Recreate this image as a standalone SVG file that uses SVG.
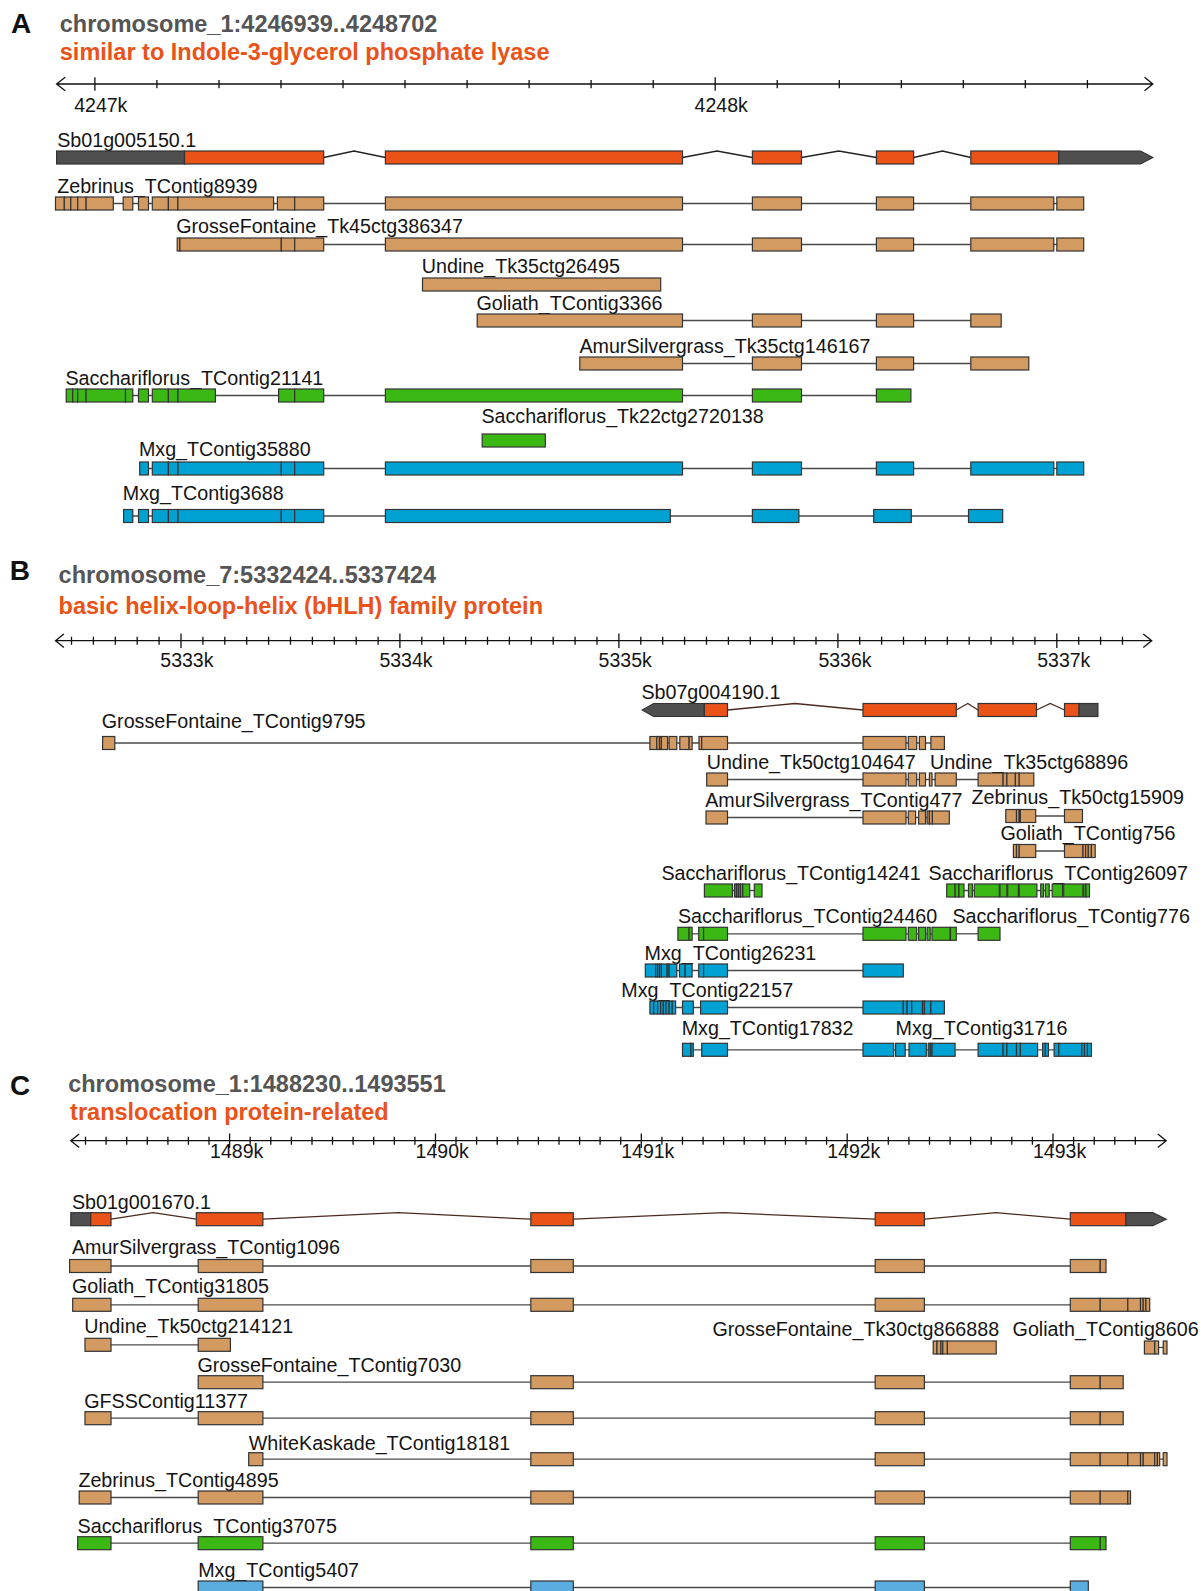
<svg xmlns="http://www.w3.org/2000/svg" width="1202" height="1591" viewBox="0 0 1202 1591">
<style>
text{font-family:"Liberation Sans",Arial,Helvetica,sans-serif}
.lab{font-size:19.7px;fill:#141414}
.tk{font-size:19.5px;fill:#141414}
.let{font-size:28px;font-weight:bold;fill:#111}
.hd{font-size:23.5px;font-weight:bold;fill:#555}
.sub{font-size:23.5px;font-weight:bold;fill:#EA5218}
rect,polygon.u{stroke:#333;stroke-width:1.2}
.o{fill:#EA5218}.d{fill:#4F4F4F}.t{fill:#D39B62}.g{fill:#3CB815}.b{fill:#00A2D3}.lb{fill:#5AADDE}
.in{stroke:#4a4a4a;stroke-width:1.3;fill:none}
.ch{stroke:#222;stroke-width:1.3;fill:none}
.chb{stroke:#4a2a1e;stroke-width:1.3;fill:none}
.ax{stroke:#111;stroke-width:1.3;fill:none}
</style>

<!-- ================= PANEL A ================= -->
<g id="panelA-header">
<text class="let" x="11" y="33">A</text>
<text class="hd" x="59.8" y="31.7">chromosome_1:4246939..4248702</text>
<text class="sub" x="59.8" y="60">similar to Indole-3-glycerol phosphate lyase</text>
</g>
<g id="axisA">
<path class="ax" d="M56.6 84H1152.8M65.2 77.3L56.6 84L65.2 90.7M1144.6 77.3L1152.8 84L1144.6 90.7"/>
<path class="ax" d="M94.9 77.3V90.7M715.2 77.3V90.7M156.9 80V88.3M219 80V88.3M281 80V88.3M343 80V88.3M405 80V88.3M467.1 80V88.3M529.1 80V88.3M591.1 80V88.3M653.2 80V88.3M777.2 80V88.3M839.3 80V88.3M901.3 80V88.3M963.3 80V88.3M1025.3 80V88.3M1087.4 80V88.3"/>
<text class="tk" x="74.2" y="111.7">4247k</text>
<text class="tk" x="694.6" y="111.7">4248k</text>
</g>

<g id="Sb01g005150.1" transform="translate(0,151)">
<text class="lab" x="57.2" y="-4.4">Sb01g005150.1</text>
<polyline class="ch" points="323.7,6.5 354,0 385.4,6.5"/>
<polyline class="ch" points="682.5,6.5 717,0 752.4,6.5"/>
<polyline class="ch" points="801.5,6.5 838.8,0 876.4,6.5"/>
<polyline class="ch" points="913.6,6.5 942.4,0 970.8,6.5"/>
<rect class="d" x="56.6" width="127.9" height="13"/>
<rect class="o" x="184.5" width="139.2" height="13"/>
<rect class="o" x="385.4" width="297.1" height="13"/>
<rect class="o" x="752.4" width="49.1" height="13"/>
<rect class="o" x="876.4" width="37.2" height="13"/>
<rect class="o" x="970.8" width="88" height="13"/>
<polygon class="d u" points="1058.8,0 1140.5,0 1152.8,6.5 1140.5,13 1058.8,13"/>
</g>

<g id="Zebrinus_TContig8939" transform="translate(0,197)">
<text class="lab" x="57.2" y="-4.4">Zebrinus_TContig8939</text>
<path class="in" d="M55.5 6.5H1083.7"/>
<g class="t">
<rect x="55.5" width="8.8" height="13"/><rect x="64.3" width="6.5" height="13"/><rect x="70.8" width="6.9" height="13"/><rect x="77.7" width="8.4" height="13"/><rect x="86.1" width="27.2" height="13"/>
<rect x="123.2" width="9.6" height="13"/><rect x="138.5" width="10" height="13"/>
<rect x="152.3" width="16.1" height="13"/><rect x="168.4" width="9.5" height="13"/><rect x="177.9" width="95.7" height="13"/>
<rect x="277.4" width="17.3" height="13"/><rect x="294.7" width="29" height="13"/>
<rect x="385.4" width="297.1" height="13"/><rect x="752.4" width="49.1" height="13"/><rect x="876.4" width="37.2" height="13"/><rect x="970.8" width="83" height="13"/><rect x="1056.8" width="26.9" height="13"/>
</g>
</g>

<g id="GrosseFontaine_Tk45ctg386347" transform="translate(0,238)">
<text class="lab" x="176.2" y="-4.7">GrosseFontaine_Tk45ctg386347</text>
<path class="in" d="M177.2 6.5H1083.7"/>
<g class="t">
<rect x="177.2" width="2.7" height="13"/><rect x="179.9" width="101.4" height="13"/><rect x="281.3" width="13.4" height="13"/><rect x="294.7" width="29" height="13"/>
<rect x="385.4" width="297.1" height="13"/><rect x="752.4" width="49.1" height="13"/><rect x="876.4" width="37.2" height="13"/><rect x="970.8" width="83" height="13"/><rect x="1056.8" width="26.9" height="13"/>
</g>
</g>

<g id="Undine_Tk35ctg26495" transform="translate(0,278)">
<text class="lab" x="421.8" y="-4.7">Undine_Tk35ctg26495</text>
<rect class="t" x="422.5" width="238.2" height="13"/>
</g>

<g id="Goliath_TContig3366" transform="translate(0,314)">
<text class="lab" x="476.4" y="-4">Goliath_TContig3366</text>
<path class="in" d="M477.2 6.5H1001.2"/>
<g class="t">
<rect x="477.2" width="205.3" height="13"/><rect x="752.4" width="49.1" height="13"/><rect x="876.4" width="37.2" height="13"/><rect x="970.8" width="30.4" height="13"/>
</g>
</g>

<g id="AmurSilvergrass_Tk35ctg146167" transform="translate(0,357)">
<text class="lab" x="579.4" y="-3.7">AmurSilvergrass_Tk35ctg146167</text>
<path class="in" d="M579.8 6.5H1028.8"/>
<g class="t">
<rect x="579.8" width="102.7" height="13"/><rect x="752.4" width="49.1" height="13"/><rect x="876.4" width="37.2" height="13"/><rect x="970.8" width="58" height="13"/>
</g>
</g>

<g id="Sacchariflorus_TContig21141" transform="translate(0,389)">
<text class="lab" x="65.4" y="-4">Sacchariflorus_TContig21141</text>
<path class="in" d="M66.2 6.5H910.9"/>
<g class="g">
<rect x="66.2" width="6.5" height="13"/><rect x="72.7" width="5" height="13"/><rect x="77.7" width="8.4" height="13"/><rect x="86.1" width="39.4" height="13"/><rect x="125.5" width="7.3" height="13"/>
<rect x="138.5" width="10" height="13"/>
<rect x="152.3" width="16.1" height="13"/><rect x="168.4" width="9.6" height="13"/><rect x="178" width="37.4" height="13"/>
<rect x="278.6" width="16.1" height="13"/><rect x="294.7" width="29" height="13"/>
<rect x="385.4" width="297.1" height="13"/><rect x="752.4" width="49.1" height="13"/><rect x="876.4" width="34.5" height="13"/>
</g>
</g>

<g id="Sacchariflorus_Tk22ctg2720138" transform="translate(0,434)">
<text class="lab" x="481.4" y="-11.3">Sacchariflorus_Tk22ctg2720138</text>
<rect class="g" x="482.2" width="63.1" height="13"/>
</g>

<g id="Mxg_TContig35880" transform="translate(0,462)">
<text class="lab" x="138.9" y="-6">Mxg_TContig35880</text>
<path class="in" d="M139.7 6.5H1083.7"/>
<g class="b">
<rect x="139.7" width="8.8" height="13"/>
<rect x="152.3" width="16.1" height="13"/><rect x="168.4" width="9.6" height="13"/><rect x="178" width="103.3" height="13"/><rect x="281.3" width="13.4" height="13"/><rect x="294.7" width="29" height="13"/>
<rect x="385.4" width="297.1" height="13"/><rect x="752.4" width="49.1" height="13"/><rect x="876.4" width="37.2" height="13"/><rect x="970.8" width="83" height="13"/><rect x="1056.8" width="26.9" height="13"/>
</g>
</g>

<g id="Mxg_TContig3688" transform="translate(0,509.5)">
<text class="lab" x="122.8" y="-9.5">Mxg_TContig3688</text>
<path class="in" d="M123.6 6.5H1002.7"/>
<g class="b">
<rect x="123.6" width="9.2" height="13"/><rect x="138.5" width="10" height="13"/>
<rect x="152.3" width="16.1" height="13"/><rect x="168.4" width="9.6" height="13"/><rect x="178" width="103.3" height="13"/><rect x="281.3" width="13.4" height="13"/><rect x="294.7" width="29" height="13"/>
<rect x="385.4" width="284.9" height="13"/><rect x="752.4" width="46.5" height="13"/><rect x="873.7" width="37.6" height="13"/><rect x="968.5" width="34.2" height="13"/>
</g>
</g>

<!-- ================= PANEL B ================= -->
<g id="panelB-header">
<text class="let" x="9.8" y="580">B</text>
<text class="hd" x="58.6" y="582.7">chromosome_7:5332424..5337424</text>
<text class="sub" x="58.6" y="614">basic helix-loop-helix (bHLH) family protein</text>
</g>
<g id="axisB">
<path class="ax" d="M55.5 640.7H1151.7M63.9 634L55.5 640.7L63.9 647.4M1143.3 634L1151.7 640.7L1143.3 647.4"/>
<path class="ax" d="M181 633.5V648M399.9 633.5V648M618.9 633.5V648M837.9 633.5V648M1056.8 633.5V648"/>
<path class="ax" d="M71.5 636.7V644.7M93.4 636.7V644.7M115.3 636.7V644.7M137.2 636.7V644.7M159.1 636.7V644.7M202.9 636.7V644.7M224.8 636.7V644.7M246.7 636.7V644.7M268.6 636.7V644.7M290.5 636.7V644.7M312.4 636.7V644.7M334.3 636.7V644.7M356.2 636.7V644.7M378.1 636.7V644.7M421.8 636.7V644.7M443.7 636.7V644.7M465.6 636.7V644.7M487.5 636.7V644.7M509.4 636.7V644.7M531.3 636.7V644.7M553.2 636.7V644.7M575.1 636.7V644.7M597 636.7V644.7M640.8 636.7V644.7M662.7 636.7V644.7M684.6 636.7V644.7M706.5 636.7V644.7M728.4 636.7V644.7M750.3 636.7V644.7M772.3 636.7V644.7M794.1 636.7V644.7M816 636.7V644.7M859.7 636.7V644.7M881.6 636.7V644.7M903.5 636.7V644.7M925.4 636.7V644.7M947.3 636.7V644.7M969.2 636.7V644.7M991.1 636.7V644.7M1013 636.7V644.7M1034.9 636.7V644.7M1078.7 636.7V644.7M1100.6 636.7V644.7M1122.5 636.7V644.7"/>
<text class="tk" x="160.3" y="667.3">5333k</text>
<text class="tk" x="379.4" y="667.3">5334k</text>
<text class="tk" x="598.6" y="667.3">5335k</text>
<text class="tk" x="818.4" y="667.3">5336k</text>
<text class="tk" x="1037.2" y="667.3">5337k</text>
</g>

<g id="Sb07g004190.1" transform="translate(0,703.5)">
<text class="lab" x="641.4" y="-4.2">Sb07g004190.1</text>
<polyline class="chb" points="727.5,6.5 795,0 863,6.5"/>
<polyline class="chb" points="956.3,6.5 967.8,0 978.1,6.5"/>
<polyline class="chb" points="1036.5,6.5 1050.3,0 1064.5,6.5"/>
<polygon class="d u" points="642.2,6.5 653.7,0 704.4,0 704.4,13 653.7,13"/>
<rect class="o" x="704.4" width="23.1" height="13"/>
<rect class="o" x="863" width="93.3" height="13"/>
<rect class="o" x="978.1" width="58.4" height="13"/>
<rect class="o" x="1064.5" width="14.6" height="13"/>
<rect class="d" x="1079.1" width="18.8" height="13"/>
</g>

<g id="GrosseFontaine_TContig9795" transform="translate(0,736.5)">
<text class="lab" x="101.8" y="-8.2">GrosseFontaine_TContig9795</text>
<path class="in" d="M102.6 6.5H944.4"/>
<g class="t">
<rect x="102.6" width="12.2" height="13"/>
<rect x="649.9" width="6.9" height="13"/><rect x="656.8" width="2.7" height="13"/><rect x="659.5" width="1.9" height="13"/><rect x="661.4" width="6.2" height="13"/><rect x="669.1" width="7.7" height="13"/><rect x="679.8" width="9.3" height="13"/><rect x="689.1" width="3" height="13"/><rect x="699" width="2.7" height="13"/><rect x="701.7" width="25.8" height="13"/>
<rect x="863" width="43" height="13"/><rect x="908.3" width="8.4" height="13"/><rect x="919.4" width="6.1" height="13"/><rect x="930.9" width="13.5" height="13"/>
</g>
</g>

<g id="Undine_Tk50ctg104647" transform="translate(0,773)">
<text class="lab" x="706.7" y="-3.7">Undine_Tk50ctg104647</text>
<path class="in" d="M706.7 6.5H935.1"/>
<g class="t">
<rect x="706.7" width="20.8" height="13"/><rect x="863" width="43" height="13"/><rect x="908.3" width="8.4" height="13"/><rect x="919.4" width="6.1" height="13"/><rect x="929.4" width="2.6" height="13"/>
</g>
</g>

<g id="Undine_Tk35ctg68896" transform="translate(0,773)">
<text class="lab" x="930.1" y="-3.7">Undine_Tk35ctg68896</text>
<path class="in" d="M935.1 6.5H1033.8"/>
<g class="t">
<rect x="935.1" width="21.2" height="13"/><rect x="978.1" width="25" height="13"/><rect x="1003.1" width="3.8" height="13"/><rect x="1006.9" width="8.5" height="13"/><rect x="1015.4" width="3.8" height="13"/><rect x="1019.2" width="14.6" height="13"/>
</g>
</g>

<g id="AmurSilvergrass_TContig477" transform="translate(0,811)">
<text class="lab" x="705.2" y="-4.3">AmurSilvergrass_TContig477</text>
<path class="in" d="M706 6.5H949.3"/>
<g class="t">
<rect x="706" width="21.5" height="13"/><rect x="863" width="43" height="13"/><rect x="908.3" width="7.3" height="13"/><rect x="918.6" width="6.9" height="13"/><rect x="927.1" width="2.3" height="13"/><rect x="929.4" width="3" height="13"/><rect x="932.4" width="16.9" height="13"/>
</g>
</g>

<g id="Zebrinus_Tk50ctg15909" transform="translate(0,809.5)">
<text class="lab" x="971.6" y="-6">Zebrinus_Tk50ctg15909</text>
<path class="in" d="M1005.8 6.5H1082.5"/>
<g class="t">
<rect x="1005.8" width="10.7" height="13"/><rect x="1016.5" width="2.7" height="13"/><rect x="1019.2" width="1.2" height="13"/><rect x="1020.4" width="15.3" height="13"/><rect x="1064.5" width="18" height="13"/>
</g>
</g>

<g id="Goliath_TContig756" transform="translate(0,844.5)">
<text class="lab" x="1000.4" y="-4.5">Goliath_TContig756</text>
<path class="in" d="M1013.4 6.5H1095.2"/>
<g class="t">
<rect x="1013.4" width="3.1" height="13"/><rect x="1016.5" width="2.7" height="13"/><rect x="1019.2" width="16.5" height="13"/><rect x="1064.5" width="18.5" height="13"/><rect x="1083" width="2.6" height="13"/><rect x="1085.6" width="2.7" height="13"/><rect x="1088.3" width="3.1" height="13"/><rect x="1091.4" width="3.8" height="13"/>
</g>
</g>

<g id="Sacchariflorus_TContig14241" transform="translate(0,884)">
<text class="lab" x="661.4" y="-4">Sacchariflorus_TContig14241</text>
<path class="in" d="M704.4 6.5H762"/>
<g class="g">
<rect x="704.4" width="28" height="13"/><rect x="734.4" width="2" height="13"/><rect x="736.4" width="2" height="13"/><rect x="738.4" width="2" height="13"/><rect x="740.4" width="2.4" height="13"/><rect x="742.8" width="6.9" height="13"/><rect x="754.3" width="7.7" height="13"/>
</g>
</g>

<g id="Sacchariflorus_TContig26097" transform="translate(0,884)">
<text class="lab" x="928.6" y="-4">Sacchariflorus_TContig26097</text>
<path class="in" d="M946.7 6.5H1089.5"/>
<g class="g">
<rect x="946.7" width="8.4" height="13"/><rect x="955.1" width="3.9" height="13"/><rect x="959" width="5" height="13"/><rect x="968.5" width="3.9" height="13"/><rect x="974.3" width="25" height="13"/><rect x="1000" width="6.9" height="13"/><rect x="1007.7" width="10.7" height="13"/><rect x="1019.2" width="17.7" height="13"/><rect x="1040.7" width="2.7" height="13"/><rect x="1045.3" width="3.9" height="13"/><rect x="1052.2" width="10.4" height="13"/><rect x="1063.7" width="19.2" height="13"/><rect x="1083.7" width="2.3" height="13"/><rect x="1086" width="3.5" height="13"/>
</g>
</g>

<g id="Sacchariflorus_TContig24460" transform="translate(0,927.3)">
<text class="lab" x="677.9" y="-4">Sacchariflorus_TContig24460</text>
<path class="in" d="M677.9 6.5H956.3"/>
<g class="g">
<rect x="677.9" width="11.2" height="13"/><rect x="689.1" width="3" height="13"/><rect x="698.7" width="4.9" height="13"/><rect x="703.6" width="23.9" height="13"/><rect x="863" width="43" height="13"/><rect x="908.3" width="8.4" height="13"/><rect x="918.6" width="6.9" height="13"/><rect x="927.1" width="3.1" height="13"/><rect x="932" width="18.1" height="13"/><rect x="950.5" width="5.8" height="13"/>
</g>
</g>

<g id="Sacchariflorus_TContig776" transform="translate(0,927.3)">
<text class="lab" x="952.4" y="-4">Sacchariflorus_TContig776</text>
<path class="in" d="M956.3 6.5H978.1"/>
<rect class="g" x="978.1" width="21.9" height="13"/>
</g>

<g id="Mxg_TContig26231" transform="translate(0,964)">
<text class="lab" x="644.5" y="-4">Mxg_TContig26231</text>
<path class="in" d="M645.3 6.5H903.3"/>
<g class="b">
<rect x="645.3" width="10.4" height="13"/><rect x="655.7" width="1.9" height="13"/><rect x="657.6" width="1.9" height="13"/><rect x="659.5" width="1.9" height="13"/><rect x="661.4" width="5.8" height="13"/><rect x="667.2" width="1.9" height="13"/><rect x="669.1" width="7.7" height="13"/><rect x="679.5" width="5.7" height="13"/><rect x="685.2" width="6.9" height="13"/><rect x="698.7" width="4.9" height="13"/><rect x="703.6" width="23.9" height="13"/><rect x="863" width="40.3" height="13"/>
</g>
</g>

<g id="Mxg_TContig22157" transform="translate(0,1001)">
<text class="lab" x="621.3" y="-4.3">Mxg_TContig22157</text>
<path class="in" d="M649.9 6.5H944.4"/>
<g class="b">
<rect x="649.9" width="3.8" height="13"/><rect x="653.7" width="3.9" height="13"/><rect x="657.6" width="3" height="13"/><rect x="660.6" width="2.7" height="13"/><rect x="663.3" width="2.7" height="13"/><rect x="666" width="3.1" height="13"/><rect x="669.1" width="3.1" height="13"/><rect x="672.2" width="3.4" height="13"/><rect x="682.5" width="10.8" height="13"/><rect x="700.6" width="26.9" height="13"/><rect x="863" width="40.3" height="13"/><rect x="903.3" width="3.8" height="13"/><rect x="907.1" width="4.6" height="13"/><rect x="911.7" width="10.8" height="13"/><rect x="922.5" width="1.9" height="13"/><rect x="924.4" width="6.5" height="13"/><rect x="930.9" width="13.5" height="13"/>
</g>
</g>

<g id="Mxg_TContig17832" transform="translate(0,1043.3)">
<text class="lab" x="681.7" y="-8.3">Mxg_TContig17832</text>
<path class="in" d="M682.5 6.5H955.1"/>
<g class="b">
<rect x="682.5" width="8.5" height="13"/><rect x="691" width="2.3" height="13"/><rect x="701.7" width="25.8" height="13"/><rect x="863" width="30.7" height="13"/><rect x="895.6" width="9.6" height="13"/><rect x="909" width="17.3" height="13"/><rect x="928.2" width="2" height="13"/><rect x="930.2" width="1.8" height="13"/><rect x="932" width="23.1" height="13"/>
</g>
</g>

<g id="Mxg_TContig31716" transform="translate(0,1043.3)">
<text class="lab" x="895.6" y="-8.3">Mxg_TContig31716</text>
<path class="in" d="M955.1 6.5H1091.4"/>
<g class="b">
<rect x="978.1" width="25" height="13"/><rect x="1003.1" width="3.8" height="13"/><rect x="1006.9" width="9.6" height="13"/><rect x="1016.5" width="3.9" height="13"/><rect x="1020.4" width="17.2" height="13"/><rect x="1042.6" width="2.7" height="13"/><rect x="1045.3" width="3.1" height="13"/><rect x="1054.1" width="4.7" height="13"/><rect x="1058.8" width="23" height="13"/><rect x="1081.8" width="2.7" height="13"/><rect x="1084.5" width="3" height="13"/><rect x="1087.5" width="3.9" height="13"/>
</g>
</g>

<!-- ================= PANEL C ================= -->
<g id="panelC-header">
<text class="let" x="10" y="1095">C</text>
<text class="hd" x="68.2" y="1091.7">chromosome_1:1488230..1493551</text>
<text class="sub" x="70.1" y="1120">translocation protein-related</text>
</g>
<g id="axisC">
<path class="ax" d="M70.8 1140.7H1166.2M79.2 1134L70.8 1140.7L79.2 1147.4M1157.8 1134L1166.2 1140.7L1157.8 1147.4"/>
<path class="ax" d="M229.6 1133.5V1148M435.5 1133.5V1148M641.3 1133.5V1148M847.2 1133.5V1148M1053 1133.5V1148"/>
<path class="ax" d="M85.5 1136.7V1144.7M106.1 1136.7V1144.7M126.7 1136.7V1144.7M147.3 1136.7V1144.7M167.9 1136.7V1144.7M188.4 1136.7V1144.7M209 1136.7V1144.7M250.2 1136.7V1144.7M270.8 1136.7V1144.7M291.4 1136.7V1144.7M312 1136.7V1144.7M332.5 1136.7V1144.7M353.1 1136.7V1144.7M373.7 1136.7V1144.7M394.3 1136.7V1144.7M414.9 1136.7V1144.7M456 1136.7V1144.7M476.6 1136.7V1144.7M497.2 1136.7V1144.7M517.8 1136.7V1144.7M538.4 1136.7V1144.7M559 1136.7V1144.7M579.6 1136.7V1144.7M600.1 1136.7V1144.7M620.7 1136.7V1144.7M661.9 1136.7V1144.7M682.5 1136.7V1144.7M703.1 1136.7V1144.7M723.6 1136.7V1144.7M744.2 1136.7V1144.7M764.8 1136.7V1144.7M785.4 1136.7V1144.7M806 1136.7V1144.7M826.6 1136.7V1144.7M867.7 1136.7V1144.7M888.3 1136.7V1144.7M908.9 1136.7V1144.7M929.5 1136.7V1144.7M950.1 1136.7V1144.7M970.6 1136.7V1144.7M991.2 1136.7V1144.7M1011.8 1136.7V1144.7M1032.4 1136.7V1144.7M1073.6 1136.7V1144.7M1094.2 1136.7V1144.7M1114.8 1136.7V1144.7M1135.3 1136.7V1144.7"/>
<text class="tk" x="210.1" y="1157.5">1489k</text>
<text class="tk" x="415.6" y="1157.5">1490k</text>
<text class="tk" x="621.2" y="1157.5">1491k</text>
<text class="tk" x="827.2" y="1157.5">1492k</text>
<text class="tk" x="1033" y="1157.5">1493k</text>
</g>

<g id="Sb01g001670.1" transform="translate(0,1212.7)">
<text class="lab" x="71.9" y="-3.4">Sb01g001670.1</text>
<polyline class="chb" points="111,6.5 153.1,0 196.3,6.5"/>
<polyline class="chb" points="262.9,6.5 398,0 530.8,6.5"/>
<polyline class="chb" points="573.3,6.5 723.6,0 875.2,6.5"/>
<polyline class="chb" points="924.4,6.5 996.2,0 1070.3,6.5"/>
<rect class="d" x="70.8" width="19.9" height="13"/>
<rect class="o" x="90.7" width="20.3" height="13"/>
<rect class="o" x="196.3" width="66.6" height="13"/>
<rect class="o" x="530.8" width="42.5" height="13"/>
<rect class="o" x="875.2" width="49.2" height="13"/>
<rect class="o" x="1070.3" width="55.6" height="13"/>
<polygon class="d u" points="1125.9,0 1152.8,0 1166.2,6.5 1152.8,13 1125.9,13"/>
</g>

<g id="AmurSilvergrass_TContig1096" transform="translate(0,1259.5)">
<text class="lab" x="71.9" y="-5.2">AmurSilvergrass_TContig1096</text>
<path class="in" d="M69.6 6.5H1106"/>
<g class="t">
<rect x="69.6" width="41.4" height="13"/><rect x="198.2" width="64.7" height="13"/><rect x="530.8" width="42.5" height="13"/><rect x="875.2" width="49.2" height="13"/><rect x="1070.3" width="29.9" height="13"/><rect x="1100.2" width="5.8" height="13"/>
</g>
</g>

<g id="Goliath_TContig31805" transform="translate(0,1298.3)">
<text class="lab" x="71.9" y="-5">Goliath_TContig31805</text>
<path class="in" d="M72.7 6.5H1149.7"/>
<g class="t">
<rect x="72.7" width="38.3" height="13"/><rect x="198.2" width="64.7" height="13"/><rect x="530.8" width="42.5" height="13"/><rect x="875.2" width="49.2" height="13"/><rect x="1070.3" width="29.9" height="13"/><rect x="1100.2" width="27.6" height="13"/><rect x="1127.8" width="12.7" height="13"/><rect x="1140.5" width="2.7" height="13"/><rect x="1143.2" width="2.7" height="13"/><rect x="1145.9" width="3.8" height="13"/>
</g>
</g>

<g id="Undine_Tk50ctg214121" transform="translate(0,1338.3)">
<text class="lab" x="84.2" y="-5">Undine_Tk50ctg214121</text>
<path class="in" d="M85 6.5H230.4"/>
<g class="t">
<rect x="85" width="26" height="13"/><rect x="198.2" width="32.2" height="13"/>
</g>
</g>

<g id="GrosseFontaine_Tk30ctg866888" transform="translate(0,1341)">
<text class="lab" x="712.4" y="-5">GrosseFontaine_Tk30ctg866888</text>
<g class="t">
<rect x="933.2" width="3.8" height="13"/><rect x="937" width="3.9" height="13"/><rect x="940.9" width="1.9" height="13"/><rect x="942.8" width="4.6" height="13"/><rect x="947.4" width="48.8" height="13"/>
</g>
</g>

<g id="Goliath_TContig8606" transform="translate(0,1341)">
<text class="lab" x="1012.6" y="-5">Goliath_TContig8606</text>
<path class="in" d="M1144.4 6.5H1167"/>
<g class="t">
<rect x="1144.4" width="10.3" height="13"/><rect x="1154.7" width="3.9" height="13"/><rect x="1163.2" width="3.8" height="13"/>
</g>
</g>

<g id="GrosseFontaine_TContig7030" transform="translate(0,1375.7)">
<text class="lab" x="197.4" y="-4">GrosseFontaine_TContig7030</text>
<path class="in" d="M198.2 6.5H1123.2"/>
<g class="t">
<rect x="198.2" width="64.7" height="13"/><rect x="530.8" width="42.5" height="13"/><rect x="875.2" width="49.2" height="13"/><rect x="1070.3" width="29.9" height="13"/><rect x="1100.2" width="23" height="13"/>
</g>
</g>

<g id="GFSSContig11377" transform="translate(0,1411.7)">
<text class="lab" x="84.2" y="-4">GFSSContig11377</text>
<path class="in" d="M85 6.5H1123.2"/>
<g class="t">
<rect x="85" width="26" height="13"/><rect x="198.2" width="64.7" height="13"/><rect x="530.8" width="42.5" height="13"/><rect x="875.2" width="49.2" height="13"/><rect x="1070.3" width="29.9" height="13"/><rect x="1100.2" width="23" height="13"/>
</g>
</g>

<g id="WhiteKaskade_TContig18181" transform="translate(0,1452.7)">
<text class="lab" x="248.7" y="-2.7">WhiteKaskade_TContig18181</text>
<path class="in" d="M248.7 6.5H1167"/>
<g class="t">
<rect x="248.7" width="14.2" height="13"/><rect x="530.8" width="42.5" height="13"/><rect x="875.2" width="49.2" height="13"/><rect x="1070.3" width="29.9" height="13"/><rect x="1100.2" width="27.6" height="13"/><rect x="1127.8" width="12.7" height="13"/><rect x="1140.5" width="2.7" height="13"/><rect x="1143.2" width="11.5" height="13"/><rect x="1154.7" width="2.7" height="13"/><rect x="1157.4" width="2.3" height="13"/><rect x="1163.2" width="3.8" height="13"/>
</g>
</g>

<g id="Zebrinus_TContig4895" transform="translate(0,1491)">
<text class="lab" x="78.4" y="-4.3">Zebrinus_TContig4895</text>
<path class="in" d="M79.2 6.5H1130.5"/>
<g class="t">
<rect x="79.2" width="31.8" height="13"/><rect x="198.2" width="64.7" height="13"/><rect x="530.8" width="42.5" height="13"/><rect x="875.2" width="49.2" height="13"/><rect x="1070.3" width="29.9" height="13"/><rect x="1100.2" width="27.6" height="13"/><rect x="1127.8" width="2.7" height="13"/>
</g>
</g>

<g id="Sacchariflorus_TContig37075" transform="translate(0,1536.7)">
<text class="lab" x="77.6" y="-4">Sacchariflorus_TContig37075</text>
<path class="in" d="M77.7 6.5H1106"/>
<g class="g">
<rect x="77.7" width="33.3" height="13"/><rect x="198.2" width="64.7" height="13"/><rect x="530.8" width="42.5" height="13"/><rect x="875.2" width="49.2" height="13"/><rect x="1070.3" width="29.9" height="13"/><rect x="1100.2" width="5.8" height="13"/>
</g>
</g>

<g id="Mxg_TContig5407" transform="translate(0,1581)">
<text class="lab" x="198.2" y="-4.3">Mxg_TContig5407</text>
<path class="in" d="M198.2 6.5H1088.3"/>
<g class="lb">
<rect x="198.2" width="64.7" height="13"/><rect x="530.8" width="42.5" height="13"/><rect x="875.2" width="49.2" height="13"/><rect x="1070.3" width="18" height="13"/>
</g>
</g>
</svg>
